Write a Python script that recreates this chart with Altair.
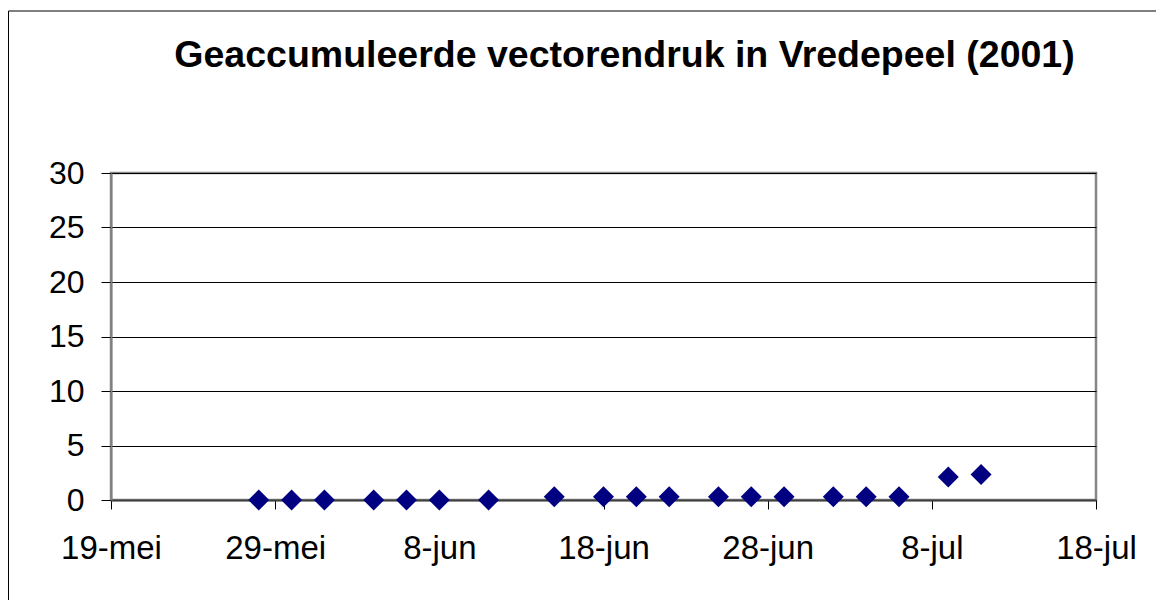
import altair as alt
import pandas as pd

dates = ["2001-05-28", "2001-05-30", "2001-06-01", "2001-06-04", "2001-06-06",
         "2001-06-08", "2001-06-11", "2001-06-15", "2001-06-18", "2001-06-20",
         "2001-06-22", "2001-06-25", "2001-06-27", "2001-06-29", "2001-07-02",
         "2001-07-04", "2001-07-06", "2001-07-09", "2001-07-11"]
values = [0, 0, 0, 0, 0, 0, 0, 0.3, 0.3, 0.3, 0.3, 0.3, 0.3, 0.3, 0.3, 0.3, 0.3, 2.1, 2.35]
tick_dates = [(2001, 5, 19), (2001, 5, 29), (2001, 6, 8), (2001, 6, 18),
              (2001, 6, 28), (2001, 7, 8), (2001, 7, 18)]
y_ticks = [0, 5, 10, 15, 20, 25, 30]
title_text = "Geaccumuleerde vectorendruk in Vredepeel (2001)"

df = pd.DataFrame({"datum": dates, "waarde": values})

FONT = "Liberation Sans"
x_vals = [alt.DateTime(year=y, month=m, date=d, utc=True) for (y, m, d) in tick_dates]

points = alt.Chart(df).mark_point(
    shape="diamond", filled=True, color="#000080", size=441, opacity=1, strokeWidth=0
).encode(
    x=alt.X("datum:T",
            scale=alt.Scale(type="utc",
                            domain=[alt.DateTime(year=2001, month=5, date=19, utc=True),
                                    alt.DateTime(year=2001, month=7, date=18, utc=True)]),
            axis=alt.Axis(values=x_vals,
                          labelExpr="utcdate(datum.value) + '-' + ['jan','feb','mrt','apr','mei','jun','jul','aug','sep','okt','nov','dec'][utcmonth(datum.value)]",
                          title=None, grid=False, labelFont=FONT, labelFontSize=33,
                          labelColor="black", labelPadding=23, tickSize=9, tickColor="black",
                          tickWidth=1, domainColor="#404040", domainWidth=2,
                          labelOverlap=False, labelFlush=False)),
    y=alt.Y("waarde:Q",
            scale=alt.Scale(domain=[0, 30], nice=False, zero=True),
            axis=alt.Axis(values=y_ticks, title=None, grid=True, gridColor="black",
                          gridWidth=1, gridOpacity=1, labelFont=FONT, labelFontSize=32,
                          labelColor="black", labelPadding=17, tickSize=10,
                          tickColor="black", tickWidth=1, domainColor="#808080",
                          domainWidth=2))
)

border = alt.Chart(pd.DataFrame({"a": [0]})).mark_rule(color="black", strokeWidth=1).encode(
    x=alt.value(-102.5), y=alt.value(-162), y2=alt.value(441)
) + alt.Chart(pd.DataFrame({"a": [0]})).mark_rule(color="black", strokeWidth=1).encode(
    x=alt.value(-102.5), x2=alt.value(1060), y=alt.value(-162)
)

chart = alt.layer(points, border).properties(
    width=985, height=327,
    autosize=alt.AutoSizeParams(type="none"),
    padding={"left": 103, "top": 165, "right": 60, "bottom": 100},
    title=alt.TitleParams(title_text, font=FONT, fontSize=37.5, fontWeight="bold",
                          color="black", anchor="middle", frame="group", dx=21,
                          baseline="alphabetic", offset=0, dy=94),
).configure_view(stroke="#868686", strokeWidth=2.5)

chart.save("out.html", embed_options={"renderer": "svg", "actions": False})
